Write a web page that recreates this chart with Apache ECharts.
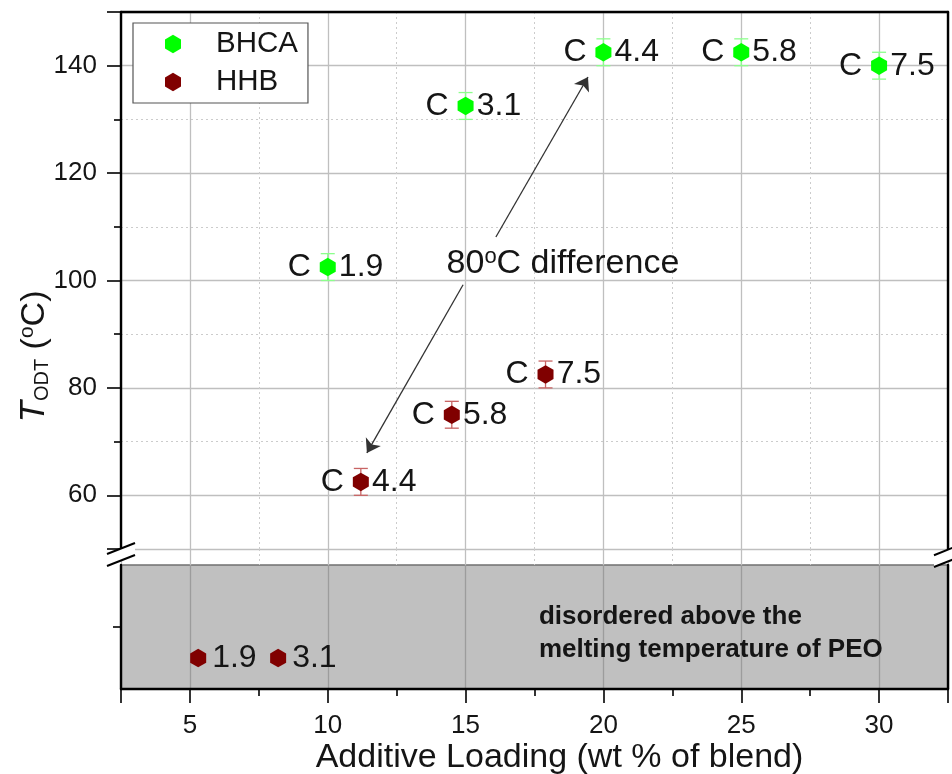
<!DOCTYPE html>
<html>
<head>
<meta charset="utf-8">
<script src="https://cdn.jsdelivr.net/npm/echarts@6/dist/echarts.min.js"></script>
<style>
  html, body { margin: 0; padding: 0; background: #fff; }
  #chart { width: 952px; height: 774px; }
</style>
</head>
<body>
<div id="chart"></div>
<script>
// ---- data ----
// BHCA blends: additive loading (wt %), order-disorder temperature (°C), error, sample tag
const bhcaLoading = [10, 15, 20, 25, 30];
const bhcaTodt = [102.5, 132.5, 142.5, 142.5, 140];
const bhcaErr = [2.5, 2.5, 2.5, 2.5, 2.5];
const bhcaTags = ['1.9', '3.1', '4.4', '5.8', '7.5'];

// HHB blends that show an ODT
const hhbLoading = [11.2, 14.5, 17.9];
const hhbTodt = [62.5, 75, 82.5];
const hhbErr = [2.5, 2.5, 2.5];
const hhbTags = ['4.4', '5.8', '7.5'];

// HHB blends disordered above the PEO melting point (placed inside the shaded band)
const hhbDisLoading = [5.3, 8.2];
const hhbDisLevel = [0.25, 0.25];
const hhbDisTags = ['1.9', '3.1'];

// ---- styling helpers ----
const FONT = '"Liberation Sans", Arial, Helvetica, sans-serif';
const INK = '#151515';
const HEX = 'path://M0,-10L8.66,-5L8.66,5L0,10L-8.66,5L-8.66,-5Z';
const GREEN = '#00ff00';
const MAROON = '#800000';

const zip2 = (a, b) => a.map((v, i) => [v, b[i]]);
const zip3 = (a, b, c) => a.map((v, i) => [v, b[i], c[i]]);

function errorBars(color) {
  return function (params, api) {
    const x = api.value(0);
    const y = api.value(1);
    const e = api.value(2);
    const hi = api.coord([x, y + e]);
    const lo = api.coord([x, y - e]);
    const cap = 7;
    const style = { stroke: color, lineWidth: 1.3, fill: null };
    return {
      type: 'group',
      children: [
        { type: 'line', shape: { x1: hi[0], y1: hi[1], x2: lo[0], y2: lo[1] }, style },
        { type: 'line', shape: { x1: hi[0] - cap, y1: hi[1], x2: hi[0] + cap, y2: hi[1] }, style },
        { type: 'line', shape: { x1: lo[0] - cap, y1: lo[1], x2: lo[0] + cap, y2: lo[1] }, style }
      ]
    };
  };
}

const frameLine = { show: true, onZero: false, lineStyle: { color: '#000', width: 2.4 } };
const tickLine = { color: '#000', width: 1.6 };
const gridSolid = { show: true, lineStyle: { color: '#bfbfbf', width: 1.3 } };
const gridDotted = { show: true, lineStyle: { color: '#cccccc', width: 1, type: [2, 3] } };
const xRange = { type: 'value', min: 2.5, max: 32.5, minInterval: 5, maxInterval: 5 };
const hidden = { axisLine: { show: false }, axisTick: { show: false }, axisLabel: { show: false } };

const chart = echarts.init(document.getElementById('chart'), null, { renderer: 'canvas' });

const option = {
  animation: false,
  backgroundColor: '#fff',
  textStyle: { fontFamily: FONT },
  grid: [
    { left: 121, right: 4, top: 12, height: 537, outerBoundsMode: 'none' },        // ordered region
    { left: 121, right: 4, top: 549, height: 16, outerBoundsMode: 'none' },        // axis-break strip
    { left: 121, right: 4, top: 565, height: 124, outerBoundsMode: 'none',
      show: true, backgroundColor: '#c0c0c0', borderColor: '#707070', borderWidth: 1.5 }, // disordered band
    { left: 121, right: 4, top: 24, height: 665, outerBoundsMode: 'none' }         // carries the y title
  ],
  legend: {
    data: ['BHCA', 'HHB'],
    orient: 'vertical',
    left: 133, top: 23,
    padding: [6, 10, 6, 32],
    itemGap: 8,
    itemWidth: 16, itemHeight: 18.5,
    icon: HEX,
    backgroundColor: '#fff',
    borderColor: '#555', borderWidth: 1.2,
    selectedMode: false,
    textStyle: { fontSize: 29.5, color: INK, fontFamily: FONT, padding: [0, 0, 0, 30] }
  },
  xAxis: [
    Object.assign({}, xRange, hidden, { gridIndex: 0, position: 'bottom',
      splitLine: gridSolid, minorTick: { show: false, splitNumber: 2 }, minorSplitLine: gridDotted }),
    Object.assign({}, xRange, { gridIndex: 0, position: 'top', axisLine: frameLine,
      axisTick: { show: false }, axisLabel: { show: false }, splitLine: { show: false } }),
    Object.assign({}, xRange, hidden, { gridIndex: 1, position: 'bottom',
      splitLine: gridSolid, minorTick: { show: false, splitNumber: 2 }, minorSplitLine: gridDotted }),
    Object.assign({}, xRange, { gridIndex: 2, position: 'bottom',
      axisLine: frameLine,
      axisTick: { show: true, length: 14, lineStyle: tickLine },
      minorTick: { show: true, splitNumber: 2, length: 7, lineStyle: tickLine },
      axisLabel: { fontSize: 26, color: INK, fontFamily: FONT, margin: 24, showMinLabel: false, showMaxLabel: false },
      splitLine: { show: true, lineStyle: { color: '#9c9c9c', width: 1.3 } },
      minorSplitLine: { show: false },
      name: 'Additive Loading (wt % of blend)',
      nameLocation: 'middle', nameGap: 52,
      nameTextStyle: { fontSize: 34, color: INK, fontFamily: FONT, padding: [0, 0, 0, 50] } }),
    { type: 'value', gridIndex: 3, min: 0, max: 1, show: false }
  ],
  yAxis: [
    { type: 'value', gridIndex: 0, position: 'left', min: 50, max: 150, minInterval: 20, maxInterval: 20,
      axisLine: frameLine,
      axisTick: { show: true, length: 14, lineStyle: tickLine },
      minorTick: { show: true, splitNumber: 2, length: 7, lineStyle: tickLine },
      axisLabel: { fontSize: 26, color: INK, fontFamily: FONT, margin: 24, showMinLabel: false, showMaxLabel: false },
      splitLine: gridSolid, minorSplitLine: gridDotted },
    { type: 'value', gridIndex: 0, position: 'right', min: 50, max: 150,
      axisLine: frameLine, axisTick: { show: false }, axisLabel: { show: false }, splitLine: { show: false } },
    { type: 'value', gridIndex: 1, min: 0, max: 1, show: false },
    { type: 'value', gridIndex: 2, position: 'left', min: 0, max: 1,
      axisLine: frameLine,
      axisTick: { show: true, length: 8, lineStyle: tickLine, customValues: [0.5] },
      axisLabel: { show: false }, splitLine: { show: false } },
    { type: 'value', gridIndex: 2, position: 'right', min: 0, max: 1,
      axisLine: frameLine, axisTick: { show: false }, axisLabel: { show: false }, splitLine: { show: false } },
    { type: 'value', gridIndex: 3, position: 'left', min: 0, max: 1,
      axisLine: { show: false }, axisTick: { show: false }, axisLabel: { show: false }, splitLine: { show: false },
      name: '{t|T}{s|ODT} ({o|o}C)',
      nameLocation: 'middle', nameGap: 69, nameRotate: 90,
      nameTextStyle: {
        fontSize: 34, color: INK, fontFamily: FONT,
        rich: {
          t: { fontSize: 35, fontStyle: 'italic', fontFamily: FONT, color: INK },
          s: { fontSize: 20, fontFamily: FONT, color: INK, verticalAlign: 'bottom' },
          o: { fontSize: 21, fontFamily: FONT, color: INK, verticalAlign: 'top' }
        }
      } }
  ],
  series: [
    {
      name: 'BHCA err', type: 'custom', xAxisIndex: 0, yAxisIndex: 0, silent: true, z: 2,
      encode: { x: 0, y: 1 },
      data: zip3(bhcaLoading, bhcaTodt, bhcaErr),
      renderItem: errorBars('#8cff8c')
    },
    {
      name: 'HHB err', type: 'custom', xAxisIndex: 0, yAxisIndex: 0, silent: true, z: 2,
      encode: { x: 0, y: 1 },
      data: zip3(hhbLoading, hhbTodt, hhbErr),
      renderItem: errorBars('#c86464')
    },
    {
      name: 'BHCA', type: 'scatter', xAxisIndex: 0, yAxisIndex: 0, z: 3,
      symbol: HEX, symbolSize: [16, 18.5],
      itemStyle: { color: GREEN, opacity: 1 },
      data: zip2(bhcaLoading, bhcaTodt),
      label: {
        show: true, position: 'inside', align: 'left', verticalAlign: 'middle', offset: [-40, 0],
        fontSize: 32, color: INK, fontFamily: FONT,
        formatter: p => '{c|C}{g| }{n|' + bhcaTags[p.dataIndex] + '}',
        rich: { c: { fontSize: 32, color: INK }, g: { width: 28 }, n: { fontSize: 32, color: INK } }
      }
    },
    {
      name: 'HHB', type: 'scatter', xAxisIndex: 0, yAxisIndex: 0, z: 3,
      symbol: HEX, symbolSize: [16, 18.5],
      itemStyle: { color: MAROON, opacity: 1 },
      data: zip2(hhbLoading, hhbTodt),
      label: {
        show: true, position: 'inside', align: 'left', verticalAlign: 'middle', offset: [-40, 0],
        fontSize: 32, color: INK, fontFamily: FONT,
        formatter: p => '{c|C}{g| }{n|' + hhbTags[p.dataIndex] + '}',
        rich: { c: { fontSize: 32, color: INK }, g: { width: 28 }, n: { fontSize: 32, color: INK } }
      },
      markLine: {
        silent: true, animation: false,
        symbol: ['none', 'arrow'], symbolSize: 13,
        lineStyle: { color: '#333', width: 1.3, type: 'solid' },
        label: { show: false },
        data: [
          [{ coord: [16.10, 108.1] }, { coord: [19.44, 137.9] }],
          [{ coord: [14.91, 99.2] }, { coord: [11.42, 67.9] }]
        ]
      },
      markPoint: {
        silent: true, animation: false,
        symbol: 'circle', symbolSize: 1,
        itemStyle: { color: 'rgba(0,0,0,0)' },
        data: [{ coord: [14.31, 103.2] }],
        label: {
          show: true, position: 'inside', align: 'left', verticalAlign: 'middle',
          fontSize: 34, color: INK, fontFamily: FONT,
          formatter: '80{o|o}C difference',
          rich: { o: { fontSize: 22, color: INK, fontFamily: FONT, verticalAlign: 'top' } }
        }
      }
    },
    {
      name: 'HHB', type: 'scatter', xAxisIndex: 3, yAxisIndex: 3, z: 3,
      symbol: HEX, symbolSize: [16, 18.5],
      itemStyle: { color: MAROON, opacity: 1 },
      data: zip2(hhbDisLoading, hhbDisLevel),
      label: {
        show: true, position: 'inside', align: 'left', verticalAlign: 'middle', offset: [14, 0],
        fontSize: 32, color: INK, fontFamily: FONT,
        formatter: p => hhbDisTags[p.dataIndex]
      },
      markPoint: {
        silent: true, animation: false,
        symbol: 'circle', symbolSize: 1,
        itemStyle: { color: 'rgba(0,0,0,0)' },
        data: [{ coord: [17.66, 0.45] }],
        label: {
          show: true, position: 'inside', align: 'left', verticalAlign: 'middle',
          fontSize: 26, fontWeight: 'bold', lineHeight: 33, color: INK, fontFamily: FONT,
          formatter: 'disordered above the\nmelting temperature of PEO'
        }
      }
    }
  ],
  // axis-break marks on the left and right frame
  graphic: [
    { type: 'polygon', z: 100, shape: { points: [[107, 554], [135, 543], [135, 555], [107, 566]] },
      style: { fill: '#fff', stroke: null } },
    { type: 'line', z: 101, shape: { x1: 107, y1: 554, x2: 135, y2: 543 }, style: { stroke: '#000', lineWidth: 2 } },
    { type: 'line', z: 101, shape: { x1: 107, y1: 566, x2: 135, y2: 555 }, style: { stroke: '#000', lineWidth: 2 } },
    { type: 'polygon', z: 100, shape: { points: [[934, 555.3], [962, 544], [962, 556], [934, 567]] },
      style: { fill: '#fff', stroke: null } },
    { type: 'line', z: 101, shape: { x1: 934, y1: 555.3, x2: 962, y2: 544 }, style: { stroke: '#000', lineWidth: 2 } },
    { type: 'line', z: 101, shape: { x1: 934, y1: 567, x2: 962, y2: 556 }, style: { stroke: '#000', lineWidth: 2 } }
  ]
};

chart.setOption(option);
</script>
</body>
</html>
